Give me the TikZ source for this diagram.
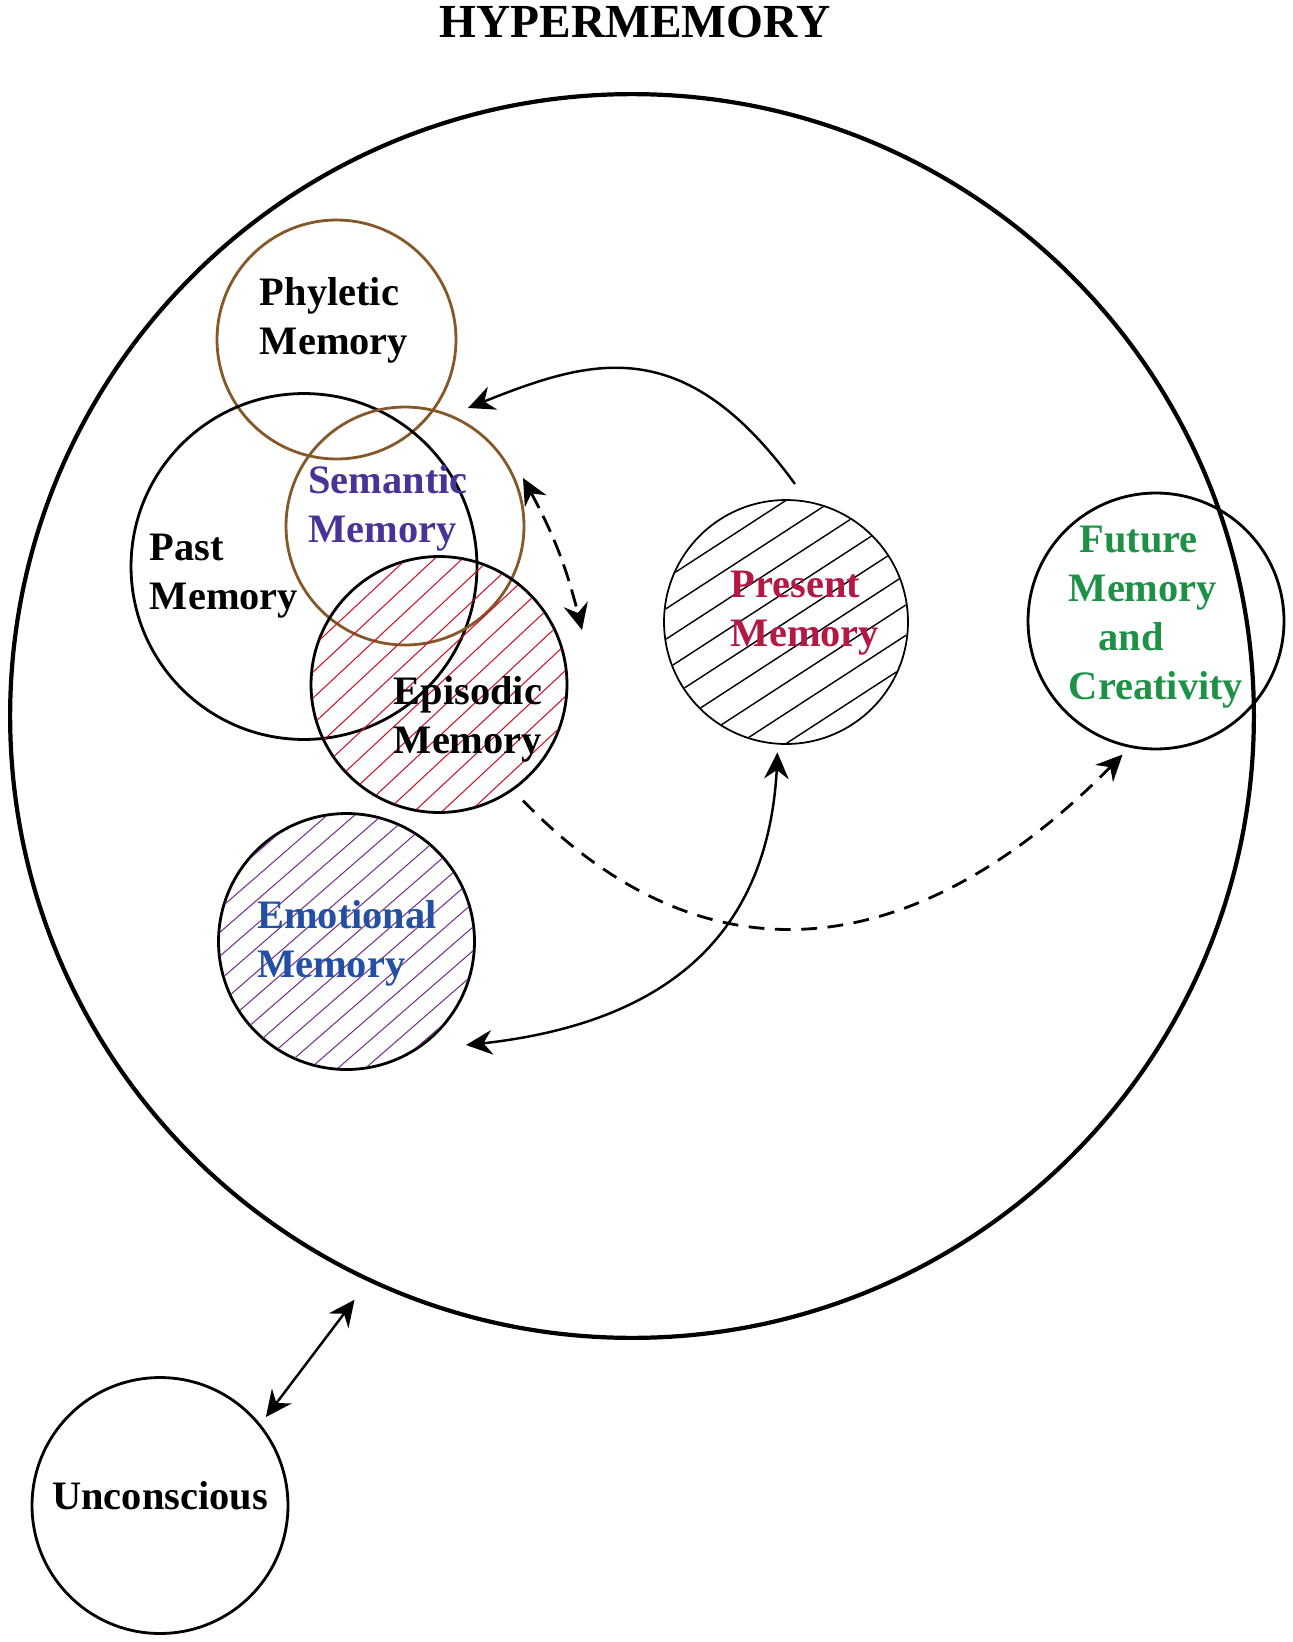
\documentclass[tikz,border=0pt]{standalone}
\usepackage{fontspec}
\setmainfont{Liberation Serif}
\usepackage{tikz}
\usetikzlibrary{arrows.meta,bending}

\definecolor{memBrown}{RGB}{133,88,42}
\definecolor{hatchRed}{RGB}{200,20,45}
\definecolor{hatchPurple}{RGB}{120,50,140}
\definecolor{semanticBlue}{RGB}{72,52,150}
\definecolor{presentRed}{RGB}{180,25,70}
\definecolor{futureGreen}{RGB}{30,145,70}
\definecolor{emotionBlue}{RGB}{35,80,165}

\begin{document}
\begin{tikzpicture}[x=0.02cm, y=-0.02cm,
    memory/.style={draw, circle, inner sep=0pt, line width=1.6pt},
    memtext/.style={font=\bfseries\fontsize{23}{28}\selectfont, inner sep=0pt, align=left},
    link/.style={line width=1.4pt,
        {Stealth[length=15pt,width=14pt,inset=5pt]}-{Stealth[length=15pt,width=14pt,inset=5pt]}},
    onelink/.style={line width=1.4pt, -{Stealth[length=15pt,width=14pt,inset=5pt]}}]

    \useasboundingbox (0,0) rectangle (1293,1642);

    % title
    \node[font=\bfseries\fontsize{27}{32}\selectfont] (Title) at (635,22) {HYPERMEMORY};

    % outer hypermemory circle
    \node[memory,
    line width=2.4pt,
    minimum size=24.88cm] (Hyper) at (632,716) {};

    % past side circles
    \node[memory,
    draw=memBrown,
    minimum size=4.78cm] (Phyletic) at (336.5,339.5) {};
    \node[memory,
    minimum size=6.92cm] (Past) at (304,566.5) {};
    \node[memory,
    draw=memBrown,
    minimum size=4.76cm] (Semantic) at (405,526) {};
    \node[memory,
    minimum size=5.12cm] (Episodic) at (439,684.5) {};
    \node[memory,
    minimum size=5.12cm] (Emotional) at (346.5,941.5) {};

    % present and future circles
    \node[memory,
    line width=1pt,
    minimum size=4.88cm] (Present) at (786,622) {};
    \node[memory,
    minimum size=5.12cm] (Future) at (1156,621) {};

    % unconscious circle
    \node[memory,
    minimum size=5.12cm] (Unconscious) at (160,1505.5) {};

    % hatching
    \begin{scope}[shift={(Episodic.center)}]
        \clip (0,0) circle[radius=127];
        \foreach \k in {-6,...,6}
        {
            \draw[hatchRed, line width=0.6pt, rotate=43] (-140,\k*19) -- (140,\k*19);
        }
    \end{scope}
    \begin{scope}[shift={(Emotional.center)}]
        \clip (0,0) circle[radius=127];
        \foreach \k in {-7,...,7}
        {
            \draw[hatchPurple, line width=0.6pt, rotate=41] (-140,\k*18) -- (140,\k*18);
        }
    \end{scope}
    \begin{scope}[shift={(Present.center)}]
        \clip (0,0) circle[radius=121];
        \foreach \k in {-4,...,4}
        {
            \draw[line width=0.8pt, rotate=33] (-140,\k*25.5) -- (140,\k*25.5);
        }
    \end{scope}

    % circle texts
    \node[memtext] (PhyleticText) at (334,320) {Phyletic\\Memory};
    \node[memtext, text=semanticBlue] (SemanticText) at (388,508) {Semantic\\Memory};
    \node[memtext] (PastText) at (224,576) {Past\\Memory};
    \node[memtext] (EpisodicText) at (468,719) {Episodic\\Memory};
    \node[memtext, text=presentRed] (PresentText) at (805,613) {Present\\Memory};
    \node[memtext, text=futureGreen] (FutureText) at (1156,617)
        {\hspace*{6pt}Future\\Memory\\\hspace*{17pt}and\\Creativity};
    \node[memtext, text=emotionBlue] (EmotionalText) at (347,943) {Emotional\\Memory};
    \node[memtext] (UnconsciousText) at (160,1496) {Unconscious};

    % free arrow ends
    \coordinate (PastTip) at (468,408);
    \coordinate (SemanticTip) at (523,478);
    \coordinate (EpisodicTip) at (582,630);
    \coordinate (EmotionalTip) at (466,1045);

    % drawing connectors
    \draw[onelink, shorten <=12pt]
        (Present.80) to[out=126, in=22, out looseness=1.6, in looseness=0.9] (PastTip);
    \draw[link, line width=1.6pt, dash pattern=on 10pt off 5pt] (SemanticTip) to[bend left=8] (EpisodicTip);
    \draw[onelink, line width=1.6pt, dash pattern=on 9pt off 6pt, shorten <=8pt, shorten >=5.5pt]
        (Episodic.-55) to[out=-46, in=-133, looseness=1.2] (Future.-102);
    \draw[link, shorten <=4.5pt] (Present.-94) to[out=-90, in=5, looseness=1.15] (EmotionalTip);
    \draw[link, shorten <=5pt, shorten >=13pt] (Unconscious.39) -- (Hyper.245);

\end{tikzpicture}
\end{document}
